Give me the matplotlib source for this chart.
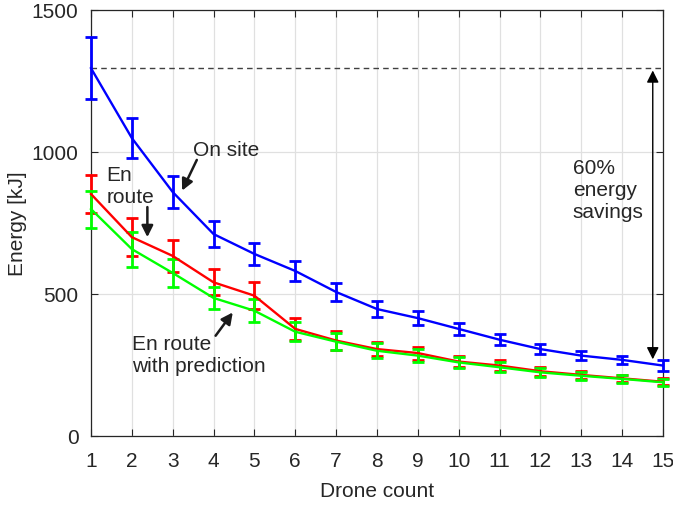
import matplotlib
matplotlib.use("Agg")
import matplotlib.pyplot as plt
import numpy as np

plt.rcParams['font.family'] = ['Liberation Sans', 'DejaVu Sans']

drones = list(range(1, 16))
on_site = [1295, 1049, 859, 711, 641, 581, 507, 447, 415, 377, 339, 306, 283, 268, 248]
on_site_err = [110, 70, 57, 46, 40, 36, 30, 28, 25, 22, 20, 18, 16, 15, 18]
en_route = [852, 700, 634, 541, 494, 377, 336, 306, 292, 262, 248, 228, 215, 203, 191]
en_route_err = [68, 67, 55, 46, 47, 38, 32, 26, 23, 20, 18, 16, 15, 13, 13]
en_pred = [799, 658, 574, 486, 441, 367, 332, 300, 283, 259, 242, 224, 212, 201, 189]
en_pred_err = [65, 62, 50, 40, 41, 34, 30, 27, 22, 20, 18, 16, 15, 13, 13]

fig = plt.figure(figsize=(6.73, 5.06), dpi=100)
ax = fig.add_axes([0.1352, 0.1364, 0.8499, 0.8419])

dark = '#262626'
FS = 15
for y, e, c in [(on_site, on_site_err, '#0000ff'),
                (en_route, en_route_err, '#ff0000'),
                (en_pred, en_pred_err, '#00ff00')]:
    cont = ax.errorbar(drones, y, yerr=e, color=c, lw=1.7, elinewidth=2.0,
                       capsize=4.5, capthick=2.0, zorder=3)
    for art in cont.get_children():
        art.set_clip_on(False)

ax.set_xlim(1, 15)
ax.set_ylim(0, 1500)
ax.set_xticks(drones)
ax.set_yticks([0, 500, 1000, 1500])
ax.grid(True, color='#e0e0e0', lw=0.9, zorder=0)
ax.set_axisbelow(True)
ax.tick_params(direction='in', top=True, right=True, labelsize=FS,
               colors=dark, length=5, width=0.8)
ax.tick_params(axis='x', pad=11)
ax.tick_params(axis='y', pad=9)
for s in ax.spines.values():
    s.set_color(dark)
    s.set_linewidth(0.9)
ax.set_xlabel('Drone count', fontsize=FS, color=dark, labelpad=8)
ax.set_ylabel('Energy [kJ]', fontsize=FS, color=dark)
ax.yaxis.set_label_coords(-0.112, 0.5)

# dashed reference line
ax.plot([1, 15], [on_site[0], on_site[0]], ls=(0, (4, 3)), color='#404040', lw=1.0, zorder=2)

# double arrow
ax.annotate('', xy=(14.75, on_site[0] - 8), xytext=(14.75, on_site[-1] + 22),
            arrowprops=dict(arrowstyle='<|-|>', color='black', lw=1.0,
                            mutation_scale=18, shrinkA=0, shrinkB=0))
ax.text(12.79, 867, '60%\nenergy\nsavings', fontsize=FS, color=dark,
        ha='left', va='center', linespacing=1.2)

arrow_kw = dict(arrowstyle='-|>', color='#1a1a1a', lw=1.8, mutation_scale=17,
                shrinkA=0, shrinkB=0)
ax.text(3.50, 1010, 'On site', fontsize=FS, color=dark, ha='left', va='center')
ax.annotate('', xy=(3.23, 864), xytext=(3.59, 972), arrowprops=arrow_kw)

ax.text(1.38, 882, 'En\nroute', fontsize=FS, color=dark, ha='left', va='center',
        linespacing=1.2)
ax.annotate('', xy=(2.38, 700), xytext=(2.38, 806), arrowprops=arrow_kw)

ax.text(2.0, 287, 'En route\nwith prediction', fontsize=FS, color=dark,
        ha='left', va='center', linespacing=1.2)
ax.annotate('', xy=(4.47, 435), xytext=(4.05, 353), arrowprops=arrow_kw)

fig.savefig('out.png', dpi=100)
